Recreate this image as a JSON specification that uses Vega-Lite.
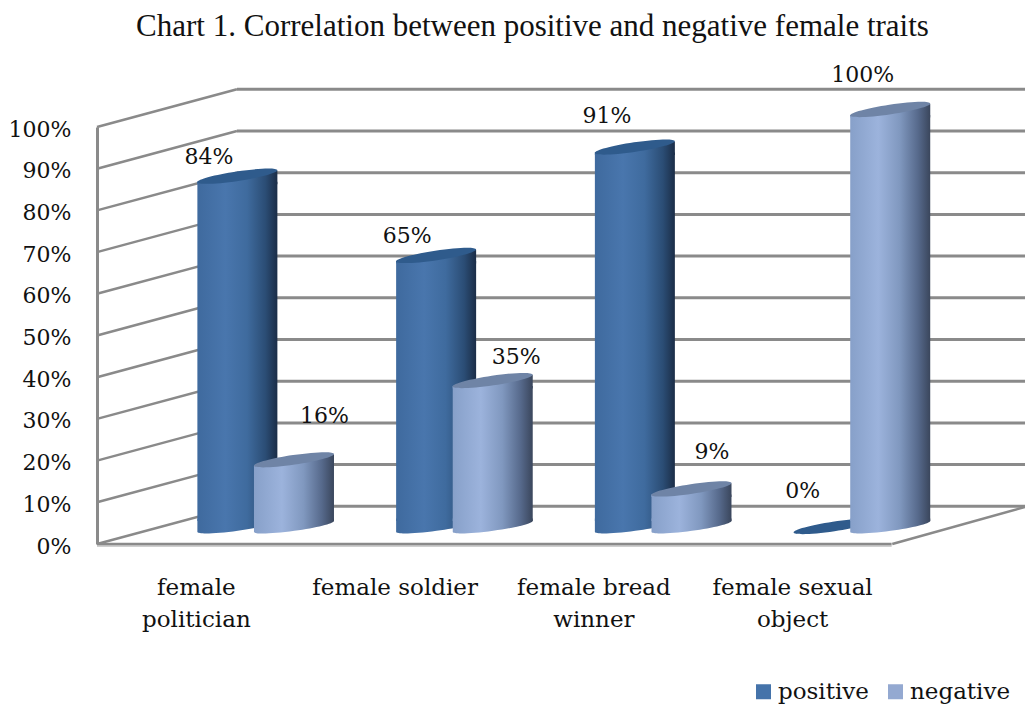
{
"$schema":"https://vega.github.io/schema/vega-lite/v6.json",
"width":795,"height":417,"autosize":"none",
"padding":{"left":97,"top":127,"right":133,"bottom":160},
"background":"white",
"title":{"text":"Chart 1. Correlation between positive and negative female traits","font":"Liberation Serif","fontSize":31,"fontWeight":"normal","color":"#111","anchor":"middle","dx":38,"offset":21},
"datasets":{
"traits":[
{"category":"female politician","series":"positive","value":0.84},
{"category":"female politician","series":"negative","value":0.16},
{"category":"female soldier","series":"positive","value":0.65},
{"category":"female soldier","series":"negative","value":0.35},
{"category":"female bread winner","series":"positive","value":0.91},
{"category":"female bread winner","series":"negative","value":0.09},
{"category":"female sexual object","series":"positive","value":0},
{"category":"female sexual object","series":"negative","value":1}
],
"backLevels":[{"level":0},{"level":0.1},{"level":0.2},{"level":0.3},{"level":0.4},{"level":0.5},{"level":0.6},{"level":0.7},{"level":0.8},{"level":0.9},{"level":1}],
"floor":[{"level":0}]
},
"data":{"name":"traits"},
"encoding":{
"x":{"field":"category","type":"nominal","sort":["female politician","female soldier","female bread winner","female sexual object"],"scale":{"paddingInner":0,"paddingOuter":0},
"axis":{"title":null,"domain":false,"ticks":false,"labelAngle":0,"labelFont":"DejaVu Serif","labelFontSize":23,"labelColor":"#111","labelPadding":32,"labelLineHeight":32,"labelOverlap":false,"labelBound":false,"labelLimit":400,
"labelExpr":"datum.label=='female politician'?['female','politician']:datum.label=='female bread winner'?['female bread','winner']:datum.label=='female sexual object'?['female sexual','object']:datum.label"}},
"y":{"field":"value","type":"quantitative","scale":{"domain":[0,1],"nice":false},
"axis":{"title":null,"grid":false,"ticks":false,"values":[0,0.1,0.2,0.3,0.4,0.5,0.6,0.7,0.8,0.9,1],"format":".0%","domainColor":"#8a8a8a","domainWidth":3,"labelFont":"DejaVu Serif","labelFontSize":22,"labelColor":"#111","labelPadding":26,"labelOffset":2,"labelOverlap":false,"labelBound":false}}
},
"layer":[
{"data":{"name":"backLevels"},"mark":{"type":"rule","color":"#8a8a8a","strokeWidth":3,"xOffset":140,"x2Offset":232.4,"yOffset":-37.7,"y2Offset":-37.7},
 "encoding":{"x":{"datum":"female politician","bandPosition":0},"x2":{"datum":"female sexual object"},"y":{"field":"level","type":"quantitative"},"y2":{"field":"level"}}},
{"data":{"name":"backLevels"},"mark":{"type":"rule","color":"#8a8a8a","strokeWidth":2.5,"x2Offset":40.6,"y2Offset":-37.7},
 "encoding":{"x":{"datum":"female politician","bandPosition":0},"x2":{"datum":"female politician"},"y":{"field":"level","type":"quantitative"},"y2":{"field":"level"}}},
{"data":{"name":"floor"},"mark":{"type":"rule","color":"#cfcfcf","strokeWidth":2,"x2Offset":99,"yOffset":2,"y2Offset":2},
 "encoding":{"x":{"datum":"female politician","bandPosition":0},"x2":{"datum":"female sexual object"},"y":{"field":"level","type":"quantitative"},"y2":{"field":"level"}}},
{"data":{"name":"floor"},"mark":{"type":"rule","color":"#8a8a8a","strokeWidth":2.5,"x2Offset":99},
 "encoding":{"x":{"datum":"female politician","bandPosition":0},"x2":{"datum":"female sexual object"},"y":{"field":"level","type":"quantitative"},"y2":{"field":"level"}}},
{"data":{"name":"floor"},"mark":{"type":"rule","color":"#8a8a8a","strokeWidth":2.5,"xOffset":199,"x2Offset":232.4,"y2Offset":-37},
 "encoding":{"x":{"datum":"female sexual object","bandPosition":0},"x2":{"datum":"female sexual object"},"y":{"field":"level","type":"quantitative"},"y2":{"field":"level"}}},

{"transform":[{"filter":"datum.series=='positive' && datum.value>0"}],
 "mark":{"type":"bar","width":70,"xOffset":41,"yOffset":-12,"y2Offset":-23},
 "encoding":{"y2":{"datum":0},"color":{"field":"series","type":"nominal","scale":{"domain":["positive","negative"],"range":["#4573aa","#94a9d1"]},
  "legend":{"title":null,"orient":"none","direction":"horizontal","legendX":655,"legendY":553,"symbolType":"square","symbolSize":225,"symbolOpacity":1,"symbolStrokeWidth":0,"labelFont":"DejaVu Serif","labelFontSize":23,"labelColor":"#111","columnPadding":15,"labelOffset":3}}}},
{"transform":[{"filter":"datum.series=='positive' && datum.value>0"}],
 "mark":{"type":"bar","width":80,"xOffset":41,"yOffset":-12,"y2Offset":-23,"fill":{"gradient":"linear","x1":0,"x2":1,"y1":0,"y2":0,"stops":[{"offset":0,"color":"#3f6a9e"},{"offset":0.35,"color":"#4976ad"},{"offset":0.62,"color":"#3f6b9e"},{"offset":0.85,"color":"#2b4d75"},{"offset":1,"color":"#1b2d47"}]}},
 "encoding":{"y2":{"datum":0}}},
{"transform":[{"filter":"datum.series=='positive' && datum.value>0"}],
 "mark":{"type":"point","filled":true,"opacity":1,"size":6400,"xOffset":41,"yOffset":-17.5,"shape":"M-1,-0.2 L1,-0.2 L1,-0.14 A1.01,0.11,-8,0,1,-1,0.14 Z","fill":{"gradient":"linear","x1":0,"x2":1,"y1":0,"y2":0,"stops":[{"offset":0,"color":"#3f6a9e"},{"offset":0.35,"color":"#4976ad"},{"offset":0.62,"color":"#3f6b9e"},{"offset":0.85,"color":"#2b4d75"},{"offset":1,"color":"#1b2d47"}]}},
 "encoding":{"y":{"datum":0}}},
{"transform":[{"filter":"datum.series=='positive' && datum.value>0"}],
 "mark":{"type":"point","filled":true,"opacity":1,"size":6400,"xOffset":41,"yOffset":-17.5,"shape":"M-1,0.14 L1,-0.14 L1,0.2 L-1,0.2 Z","fill":{"gradient":"linear","x1":0,"x2":1,"y1":0,"y2":0,"stops":[{"offset":0,"color":"#3f6a9e"},{"offset":0.35,"color":"#4976ad"},{"offset":0.62,"color":"#3f6b9e"},{"offset":0.85,"color":"#2b4d75"},{"offset":1,"color":"#1b2d47"}]}}},
{"transform":[{"filter":"datum.series=='positive'"}],
 "mark":{"type":"point","filled":true,"opacity":1,"size":6400,"fill":"#2f5b8c","xOffset":41,"yOffset":-17.5,"shape":"M-1,0.15 A1.01,0.12,-8.5,0,1,1,-0.15 A1.01,0.12,-8.5,0,1,-1,0.15 Z"}},

{"transform":[{"filter":"datum.series=='negative' && datum.value>0"}],
 "mark":{"type":"bar","width":70,"xOffset":97.6,"yOffset":-12,"y2Offset":-23},
 "encoding":{"y2":{"datum":0},"color":{"field":"series","type":"nominal"}}},
{"transform":[{"filter":"datum.series=='negative' && datum.value>0"}],
 "mark":{"type":"bar","width":80,"xOffset":97.6,"yOffset":-12,"y2Offset":-23,"fill":{"gradient":"linear","x1":0,"x2":1,"y1":0,"y2":0,"stops":[{"offset":0,"color":"#87a0c9"},{"offset":0.35,"color":"#9cb3dc"},{"offset":0.62,"color":"#8098bf"},{"offset":0.85,"color":"#56698b"},{"offset":1,"color":"#3a465c"}]}},
 "encoding":{"y2":{"datum":0}}},
{"transform":[{"filter":"datum.series=='negative' && datum.value>0"}],
 "mark":{"type":"point","filled":true,"opacity":1,"size":6400,"xOffset":97.6,"yOffset":-17.5,"shape":"M-1,-0.2 L1,-0.2 L1,-0.14 A1.01,0.11,-8,0,1,-1,0.14 Z","fill":{"gradient":"linear","x1":0,"x2":1,"y1":0,"y2":0,"stops":[{"offset":0,"color":"#87a0c9"},{"offset":0.35,"color":"#9cb3dc"},{"offset":0.62,"color":"#8098bf"},{"offset":0.85,"color":"#56698b"},{"offset":1,"color":"#3a465c"}]}},
 "encoding":{"y":{"datum":0}}},
{"transform":[{"filter":"datum.series=='negative' && datum.value>0"}],
 "mark":{"type":"point","filled":true,"opacity":1,"size":6400,"xOffset":97.6,"yOffset":-17.5,"shape":"M-1,0.14 L1,-0.14 L1,0.2 L-1,0.2 Z","fill":{"gradient":"linear","x1":0,"x2":1,"y1":0,"y2":0,"stops":[{"offset":0,"color":"#87a0c9"},{"offset":0.35,"color":"#9cb3dc"},{"offset":0.62,"color":"#8098bf"},{"offset":0.85,"color":"#56698b"},{"offset":1,"color":"#3a465c"}]}}},
{"transform":[{"filter":"datum.series=='negative'"}],
 "mark":{"type":"point","filled":true,"opacity":1,"size":6400,"fill":"#6f84a6","xOffset":97.6,"yOffset":-17.5,"shape":"M-1,0.15 A1.01,0.12,-8.5,0,1,1,-0.15 A1.01,0.12,-8.5,0,1,-1,0.15 Z"}},

{"transform":[{"filter":"datum.series=='positive' && datum.category=='female politician'"}],"mark":{"type":"text","font":"DejaVu Serif","fontSize":22,"color":"#111","dx":12.6,"dy":-37},"encoding":{"text":{"field":"value","format":".0%"}}},
{"transform":[{"filter":"datum.series=='positive' && datum.category=='female soldier'"}],"mark":{"type":"text","font":"DejaVu Serif","fontSize":22,"color":"#111","dx":12,"dy":-37},"encoding":{"text":{"field":"value","format":".0%"}}},
{"transform":[{"filter":"datum.series=='positive' && datum.category=='female bread winner'"}],"mark":{"type":"text","font":"DejaVu Serif","fontSize":22,"color":"#111","dx":13,"dy":-48.5},"encoding":{"text":{"field":"value","format":".0%"}}},
{"transform":[{"filter":"datum.series=='positive' && datum.category=='female sexual object'"}],"mark":{"type":"text","font":"DejaVu Serif","fontSize":22,"color":"#111","dx":10,"dy":-53},"encoding":{"text":{"field":"value","format":".0%"}}},
{"transform":[{"filter":"datum.series=='negative' && datum.category=='female politician'"}],"mark":{"type":"text","font":"DejaVu Serif","fontSize":22,"color":"#111","dx":128,"dy":-61},"encoding":{"text":{"field":"value","format":".0%"}}},
{"transform":[{"filter":"datum.series=='negative' && datum.category=='female soldier'"}],"mark":{"type":"text","font":"DejaVu Serif","fontSize":22,"color":"#111","dx":121,"dy":-41},"encoding":{"text":{"field":"value","format":".0%"}}},
{"transform":[{"filter":"datum.series=='negative' && datum.category=='female bread winner'"}],"mark":{"type":"text","font":"DejaVu Serif","fontSize":22,"color":"#111","dx":118,"dy":-54.5},"encoding":{"text":{"field":"value","format":".0%"}}},
{"transform":[{"filter":"datum.series=='negative' && datum.category=='female sexual object'"}],"mark":{"type":"text","font":"DejaVu Serif","fontSize":22,"color":"#111","dx":70,"dy":-52},"encoding":{"text":{"field":"value","format":".0%"}}}
],
"config":{"view":{"stroke":null}}
}
